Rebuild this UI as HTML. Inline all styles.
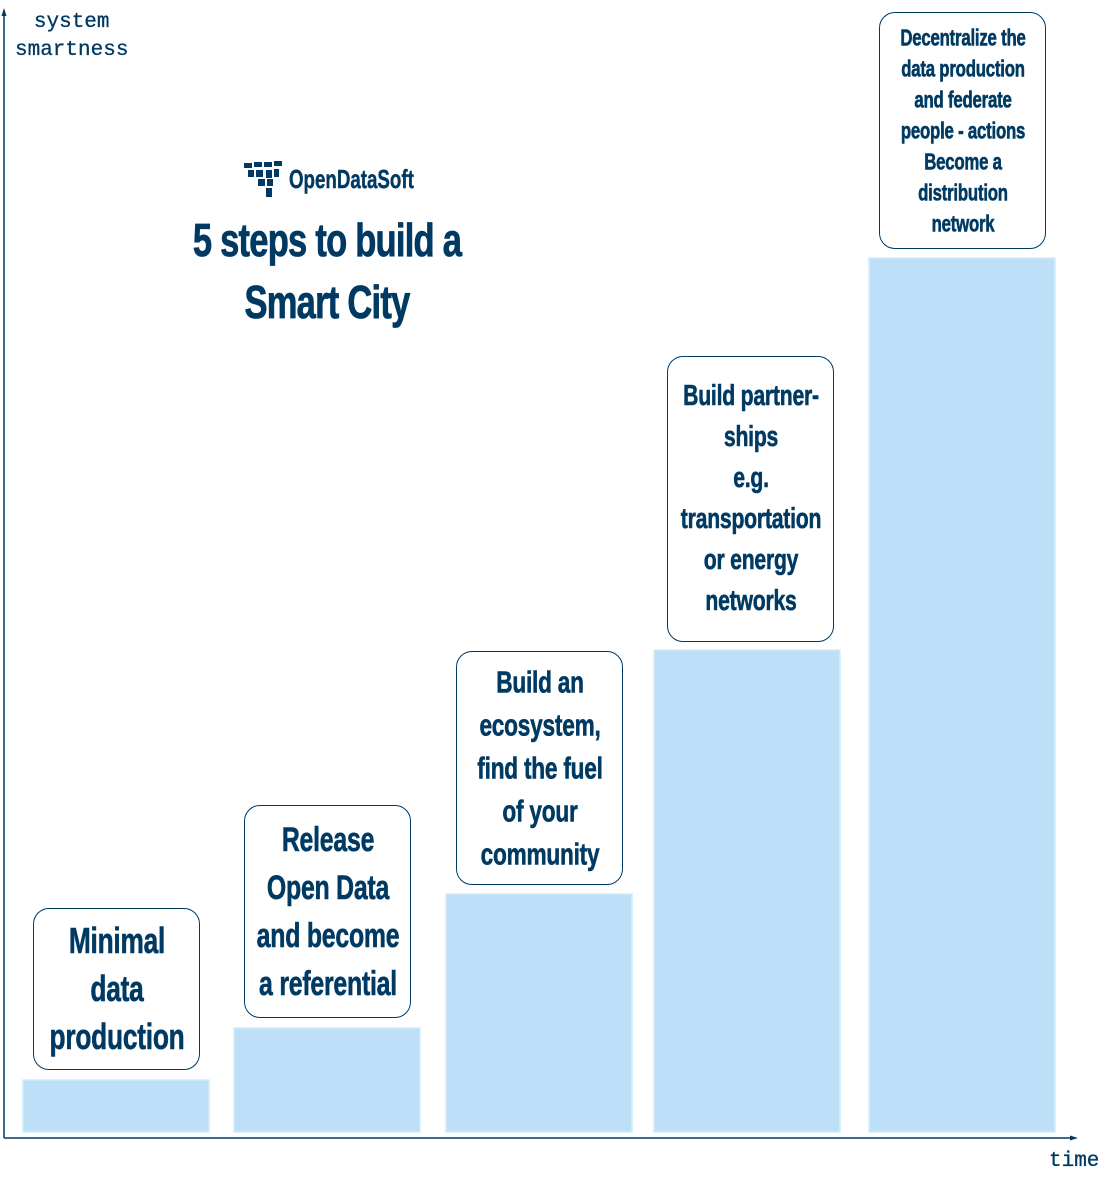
<!DOCTYPE html>
<html><head><meta charset="utf-8"><style>
body{margin:0;width:1104px;height:1179px;background:#fff;position:relative;overflow:hidden;font-family:"Liberation Sans",sans-serif;color:#003a63}
.box{position:absolute;border:1.5px solid #003a63;border-radius:16px;background:#fff;box-sizing:border-box}
.in{position:absolute;left:50%;top:50%;transform:translate(-50%,-50%) scaleX(0.73);white-space:nowrap;text-align:center;font-weight:bold;letter-spacing:-0.3px;-webkit-text-stroke:0.6px #003a63}
.ax{position:absolute;font-family:"Liberation Mono",monospace;font-size:21px;color:#003a63;-webkit-text-stroke:0.3px #003a63}
</style></head><body>
<svg id="chart" width="1104" height="1179" style="position:absolute;left:0;top:0">
<line x1="4" y1="1138" x2="4" y2="14" stroke="#003a63" stroke-width="1.5"/>
<polygon points="4,8 1.5,16 6.5,16" fill="#003a63"/>
<line x1="4" y1="1138" x2="1072" y2="1138" stroke="#003a63" stroke-width="1.5"/>
<polygon points="1078,1138 1070,1135.5 1070,1140.5" fill="#003a63"/>
<g id="bars"></g>
</svg>
<div class="ax" style="left:15px;top:9px;line-height:28px;text-align:center">system<br>smartness</div>
<div class="ax" style="left:1049px;top:1150px">time</div>
<div style="position:absolute;left:244px;top:160px;width:170px;height:40px">
<svg width="42" height="38" style="position:absolute;left:0;top:0"><g fill="#003a63"><rect x="0" y="3" width="8" height="5"/><rect x="10" y="2" width="8" height="5"/><rect x="20" y="2" width="8" height="5"/><rect x="30" y="1" width="8" height="5"/><rect x="4" y="10" width="6" height="7"/><rect x="12" y="10" width="7" height="7"/><rect x="22" y="10" width="6" height="8"/><rect x="30" y="9" width="5" height="8"/><rect x="14" y="19" width="7" height="7"/><rect x="23" y="19" width="6" height="7"/><rect x="22" y="28" width="6" height="9"/></g></svg>
<span style="position:absolute;left:45px;top:4px;font-weight:bold;font-size:26px;white-space:nowrap;transform:scaleX(0.72);transform-origin:left center;-webkit-text-stroke:0.4px #003a63">OpenDataSoft</span></div>
<div style="position:absolute;left:327px;top:271px;transform:translate(-50%,-50%) scaleX(0.75);white-space:nowrap;text-align:center;font-weight:bold;font-size:46px;line-height:62px;letter-spacing:-1px;-webkit-text-stroke:0.8px #003a63">5 steps to build a<br>Smart City</div>
<div class="box" style="left:33px;top:908px;width:167px;height:162px"><div class="in" style="font-size:36px;line-height:48px">Minimal<br>data<br>production</div></div>
<div class="box" style="left:244px;top:805px;width:167px;height:213px"><div class="in" style="font-size:34px;line-height:48px">Release<br>Open Data<br>and become<br>a referential</div></div>
<div class="box" style="left:456px;top:651px;width:167px;height:234px"><div class="in" style="font-size:31px;line-height:43px">Build an<br>ecosystem,<br>find the fuel<br>of your<br>community</div></div>
<div class="box" style="left:667px;top:356px;width:167px;height:286px"><div class="in" style="font-size:29px;line-height:41px">Build partner-<br>ships<br>e.g.<br>transportation<br>or energy<br>networks</div></div>
<div class="box" style="left:879px;top:12px;width:167px;height:237px"><div class="in" style="font-size:23px;line-height:31px">Decentralize the<br>data production<br>and federate<br>people - actions<br>Become a<br>distribution<br>network</div></div>
<script>
const steps=["Minimal data production","Release Open Data","Build an ecosystem","Build partnerships","Decentralize"];
const smartness=[52,104,238,482,874];
const bandLeft=[23,234,446,654,869];
function y(v){return 1132-v;}
const g=document.getElementById('bars');
steps.forEach((s,i)=>{
 const r=document.createElementNS('http://www.w3.org/2000/svg','rect');
 
 
 r.setAttribute('x',bandLeft[i]);r.setAttribute('width',186);
 r.setAttribute('y',y(smartness[i]));r.setAttribute('height',smartness[i]);
 r.setAttribute('fill','#bde0f8');r.setAttribute('stroke','#d2ecfc');r.setAttribute('stroke-width','1.5');
 g.appendChild(r);
});
</script>
</body></html>
